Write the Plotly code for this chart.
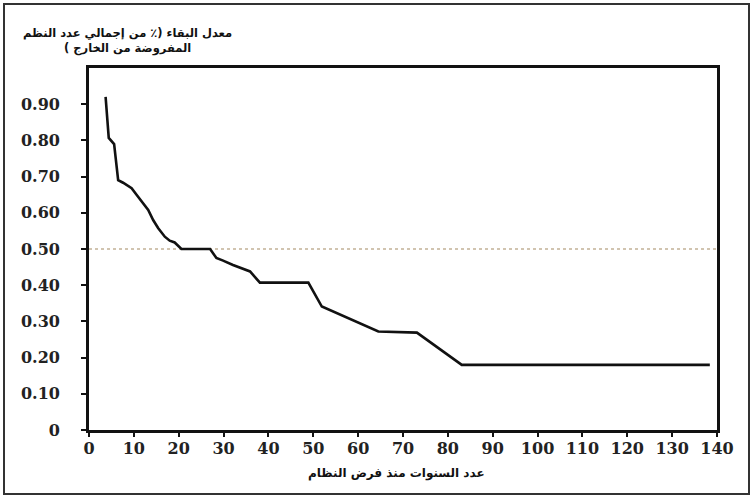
import plotly.graph_objects as go

# Data
years = [3.7, 4.4, 5.6, 6.5, 7.6, 9.5, 10.6, 12.1, 13.2, 14.3, 15.4, 16.9, 18.0, 19.1,
         20.6, 27.0, 28.4, 29.9, 32.1, 35.9, 38.1, 48.9, 51.9, 64.5, 73.1, 83.1, 138.4]
survival = [0.92, 0.807, 0.79, 0.69, 0.683, 0.668, 0.65, 0.627, 0.608, 0.58, 0.558, 0.534,
            0.523, 0.518, 0.50, 0.50, 0.475, 0.468, 0.456, 0.438, 0.407, 0.407, 0.341,
            0.272, 0.269, 0.18, 0.18]

ref_x = [0, 140]
ref_y = [0.5, 0.5]

y_tickvals = [0, 0.1, 0.2, 0.3, 0.4, 0.5, 0.6, 0.7, 0.8, 0.9]
y_ticktext = ["0", "0.10", "0.20", "0.30", "0.40", "0.50", "0.60", "0.70", "0.80", "0.90"]
x_tickvals = list(range(0, 141, 10))
x_ticktext = [str(v) for v in x_tickvals]

title_text = "\u200fمعدل البقاء (٪ من إجمالي عدد النظم\u200f<br>\u200fالمفروضة من الخارج )\u200f"
xaxis_text = "\u200fعدد السنوات منذ فرض النظام\u200f"

fig = go.Figure()
fig.add_trace(go.Scatter(x=ref_x, y=ref_y, mode="lines",
                         line=dict(color="#c2b196", width=1.3, dash="dot"),
                         hoverinfo="skip"))
fig.add_trace(go.Scatter(x=years, y=survival, mode="lines",
                         line=dict(color="#111111", width=2.6)))

tickfont = dict(family="DejaVu Serif", size=16, color="#222222", weight="bold")

fig.update_layout(
    width=753, height=500,
    margin=dict(l=89, r=36, t=68, b=70),
    paper_bgcolor="white", plot_bgcolor="white",
    showlegend=False,
    xaxis=dict(range=[0, 140], tickvals=x_tickvals, ticktext=x_ticktext,
               showline=True, linecolor="#111111", linewidth=2.8, mirror=True,
               ticks="outside", ticklen=4, tickwidth=2, tickcolor="#111111",
               showgrid=False, zeroline=False, tickfont=tickfont,
               ticklabelstandoff=-2),
    yaxis=dict(range=[0, 1.0], tickvals=y_tickvals, ticktext=y_ticktext,
               showline=True, linecolor="#111111", linewidth=2.8, mirror=True,
               ticks="outside", ticklen=5, tickwidth=2, tickcolor="#111111",
               showgrid=False, zeroline=False, tickfont=tickfont,
               ticklabelstandoff=18),
    font=dict(family="DejaVu Sans"),
)

fig.add_annotation(text=title_text, xref="paper", yref="paper",
                   x=(127 - 89) / 628, y=(430 - 41) / 362,
                   xanchor="center", yanchor="middle", showarrow=False, align="center",
                   font=dict(family="DejaVu Sans", size=11.5, color="#111111", weight="bold"))
fig.add_annotation(text=xaxis_text, xref="paper", yref="paper",
                   x=(396 - 89) / 628, y=(430 - 473) / 362,
                   xanchor="center", yanchor="middle", showarrow=False,
                   font=dict(family="DejaVu Sans", size=12, color="#111111", weight="bold"))

# outer frame around the whole picture
fig.add_shape(type="rect", xref="paper", yref="paper",
              x0=(4 - 89) / 628, x1=(749 - 89) / 628,
              y0=(430 - 494) / 362, y1=(430 - 4) / 362,
              line=dict(color="#333333", width=2), layer="below")

fig.write_html("out.html", config={"displayModeBar": False},
               post_script="document.body.style.margin='0px';")
